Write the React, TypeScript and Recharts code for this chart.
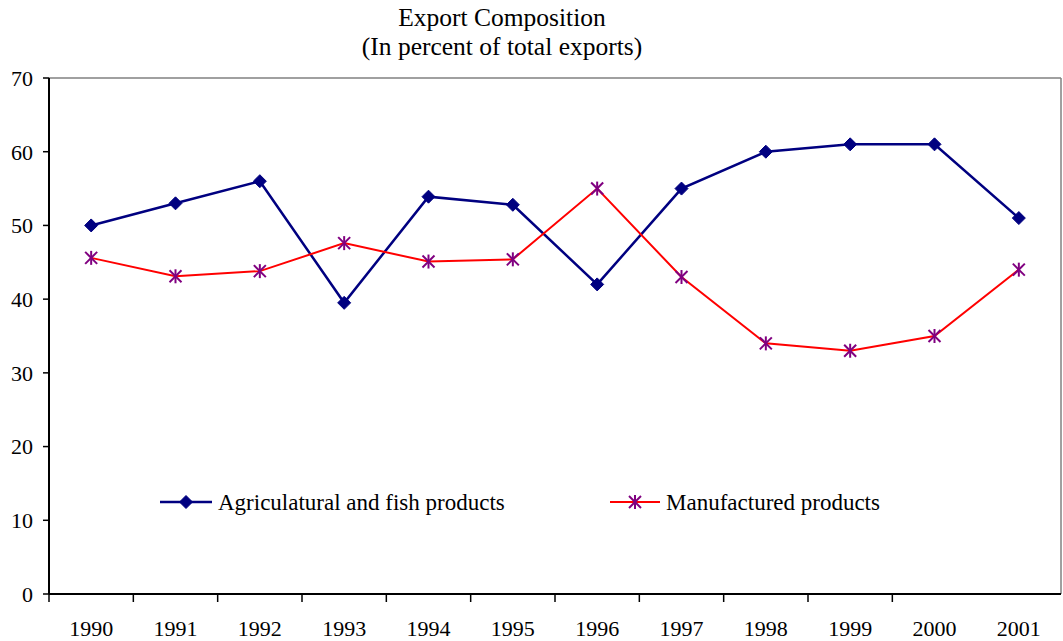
import { LineChart, Line, XAxis, YAxis, ReferenceLine } from "recharts";

const years = ["1990", "1991", "1992", "1993", "1994", "1995", "1996", "1997", "1998", "1999", "2000", "2001"];
const agriculture = [50, 53, 56, 39.5, 53.9, 52.8, 42, 55, 60, 61, 61, 51];
const manufactured = [45.6, 43.1, 43.8, 47.6, 45.1, 45.4, 55, 43, 34, 33, 35, 44];
const yTicks = [0, 10, 20, 30, 40, 50, 60, 70];

const data = years.map((year, i) => ({
  i,
  year,
  agri: agriculture[i],
  manuf: manufactured[i],
}));

const labelTicks = years.map((_, i) => i);
const boundaryTicks = years.slice(0, -1).map((_, i) => i - 0.5);

const FONT = "'Liberation Serif', 'Times New Roman', serif";
const NAVY = "#000080";
const RED = "#FF0000";
const PURPLE = "#800080";

const Diamond = ({ cx, cy }: { cx: number; cy: number }) => (
  <path
    d={`M${cx},${cy - 6.5} L${cx + 6.5},${cy} L${cx},${cy + 6.5} L${cx - 6.5},${cy} Z`}
    fill={NAVY}
    stroke={NAVY}
    strokeWidth={1}
  />
);

const Asterisk = ({ cx, cy }: { cx: number; cy: number }) => {
  const r = 6;
  return (
    <g stroke={PURPLE} strokeWidth={2}>
      <line x1={cx} y1={cy - r - 1} x2={cx} y2={cy + r + 1} />
      <line x1={cx - r} y1={cy - r} x2={cx + r} y2={cy + r} />
      <line x1={cx - r} y1={cy + r} x2={cx + r} y2={cy - r} />
    </g>
  );
};

// year label, baseline placed a fixed distance under the axis
const YearTick = ({ x, y, payload }: any) => (
  <text x={x} y={y + 34} textAnchor="middle" fontFamily={FONT} fontSize={22} fill="#000">
    {years[payload.value]}
  </text>
);

const LegendBox = () => (
  <svg width={760} height={32} style={{ position: "absolute", left: 155, top: 486 }}>
    <line x1={5} y1={16} x2={57} y2={16} stroke={NAVY} strokeWidth={2.5} />
    <Diamond cx={31} cy={16} />
    <text x={63} y={24} fontFamily={FONT} fontSize={23} fill="#000">
      Agriculatural and fish products
    </text>
    <line x1={455} y1={16} x2={505} y2={16} stroke={RED} strokeWidth={2} />
    <Asterisk cx={480} cy={16} />
    <text x={511} y={24} fontFamily={FONT} fontSize={23} fill="#000">
      Manufactured products
    </text>
  </svg>
);

export default function App() {
  return (
    <div style={{ position: "relative", width: 1063, height: 641, background: "#fff" }}>
      <style>{"body{margin:0}"}</style>
      <div
        style={{
          position: "absolute",
          left: 0,
          top: 3,
          width: 1004,
          textAlign: "center",
          fontFamily: FONT,
          fontSize: 25.5,
          lineHeight: "29px",
          color: "#000",
        }}
      >
        Export Composition
        <br />
        (In percent of total exports)
      </div>
      <LineChart width={1063} height={641} data={data} margin={{ top: 78, right: 2, bottom: 0, left: 0 }}>
        <XAxis
          xAxisId="b"
          dataKey="i"
          type="number"
          domain={[-0.5, 11.5]}
          ticks={boundaryTicks}
          tickFormatter={() => ""}
          tickSize={8}
          tickMargin={0}
          height={8}
          axisLine={{ stroke: "#000", strokeWidth: 2 }}
          tickLine={{ stroke: "#000", strokeWidth: 1.5 }}
        />
        <XAxis
          xAxisId="l"
          dataKey="i"
          type="number"
          domain={[-0.5, 11.5]}
          ticks={labelTicks}
          tickSize={0}
          tickMargin={0}
          height={39}
          axisLine={false}
          tickLine={false}
          tick={<YearTick />}
        />
        <YAxis
          domain={[0, 70]}
          ticks={yTicks}
          width={49}
          tickSize={6}
          tickMargin={10}
          axisLine={{ stroke: "#000", strokeWidth: 2 }}
          tickLine={{ stroke: "#000", strokeWidth: 1.5 }}
          tick={{ fill: "#000", fontFamily: FONT, fontSize: 22 }}
        />
        <ReferenceLine xAxisId="b" y={70} stroke="#808080" strokeWidth={1.5} />
        <ReferenceLine xAxisId="b" x={11.5} stroke="#808080" strokeWidth={1.5} />
        <Line
          xAxisId="b"
          dataKey="agri"
          stroke={NAVY}
          strokeWidth={2.5}
          dot={(p: any) => <Diamond key={`a-${p.index}`} cx={p.cx} cy={p.cy} />}
          isAnimationActive={false}
        />
        <Line
          xAxisId="b"
          dataKey="manuf"
          stroke={RED}
          strokeWidth={2}
          dot={(p: any) => <Asterisk key={`m-${p.index}`} cx={p.cx} cy={p.cy} />}
          isAnimationActive={false}
        />
      </LineChart>
      <LegendBox />
    </div>
  );
}
